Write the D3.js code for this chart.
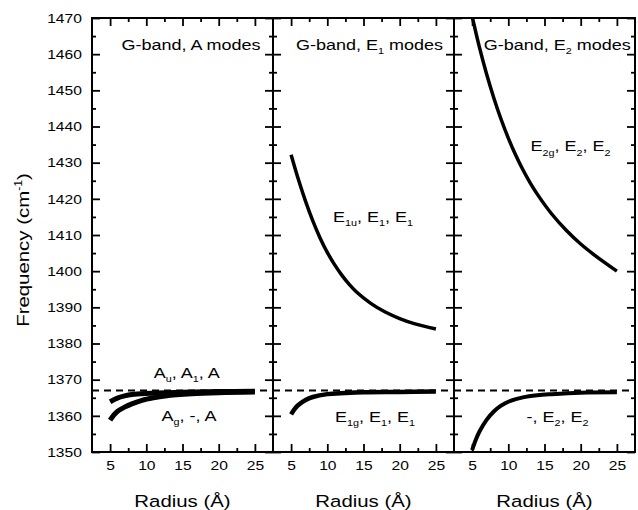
<!DOCTYPE html>
<html>
<head>
<meta charset="utf-8">
<script src="https://cdn.jsdelivr.net/npm/d3@7"></script>
<style>
	body { margin: 0; background: #fff; }
	text { font-family: "Liberation Sans", Arial, Helvetica, sans-serif; fill: #000; }
</style>
</head>
<body>
<svg id="chart" width="638" height="510"></svg>
<script>
// ticks
const radiusTicks = [5, 10, 15, 20, 25]
const radiusMinor = [7.5, 12.5, 17.5, 22.5]
const freqTicks = [1350, 1360, 1370, 1380, 1390, 1400, 1410, 1420, 1430, 1440, 1450, 1460, 1470]
const freqMinor = [1355, 1365, 1375, 1385, 1395, 1405, 1415, 1425, 1435, 1445, 1455, 1465]
const grapheneFreq = 1367

// curves: [radius, frequency]
const aUpper = [[5,1363.9],[6,1364.9],[7,1365.5],[8,1365.9],[10,1366.2],[15,1366.5],[20,1366.7],[25,1366.8]]
const aLower = [[5,1358.8],[5.5,1360.2],[6,1361.2],[7,1362.4],[8,1363.3],[9.4,1364.3],[11,1365.0],[12.6,1365.5],[16.3,1366.1],[20,1366.4],[25,1366.6]]
const e1u = [[5,1432.2],[6,1425.4],[7,1419.3],[8,1413.9],[9,1409.2],[10,1405.2],[11,1401.8],[12,1398.9],[13,1396.4],[14,1394.3],[16,1391.1],[18,1388.7],[20,1386.9],[22,1385.5],[25,1384]]
const e1g = [[5,1360.4],[5.5,1361.9],[6,1363.0],[7,1364.4],[8,1365.2],[10,1366.0],[12.5,1366.3],[15,1366.5],[20,1366.6],[25,1366.7]]
const e2g = [[5,1470.5],[6,1462],[7,1454.5],[8,1447.9],[9,1442],[10,1436.8],[11,1432.2],[12,1428.1],[13,1424.5],[14,1421.3],[16,1415.8],[18,1411.3],[20,1407.5],[22,1404.3],[25,1400]]
const e2low = [[5,1350.5],[5.5,1353.3],[6,1355.6],[7,1358.9],[8,1361.2],[9,1362.8],[10,1363.9],[12,1365.1],[14,1365.7],[16,1366.0],[20,1366.4],[25,1366.5]]

// texts (string parts, ['x','sub'] = subscript)
const titles = [
	['G-band, A modes'],
	['G-band, E', ['1','sub'], ' modes'],
	['G-band, E', ['2','sub'], ' modes']
]
const modeLabels = [
	[{at:[15.6,1370.5], parts:['A', ['u','sub'], ', A', ['1','sub'], ', A']},
	 {at:[15.9,1358.7], parts:['A', ['g','sub'], ', -, A']}],
	[{at:[16.3,1413.7], parts:['E', ['1u','sub'], ', E', ['1','sub'], ', E', ['1','sub']]},
	 {at:[16.6,1358.4], parts:['E', ['1g','sub'], ', E', ['1','sub'], ', E', ['1','sub']]}],
	[{at:[18.6,1433.2], parts:['E', ['2g','sub'], ', E', ['2','sub'], ', E', ['2','sub']]},
	 {at:[16.8,1358.4], parts:['-, E', ['2','sub'], ', E', ['2','sub']]}]
]
const panelCurves = [
	[{d:aUpper, w:5}, {d:aLower, w:5}],
	[{d:e1u, w:3.5}, {d:e1g, w:4.5}],
	[{d:e2g, w:3.5}, {d:e2low, w:4}]
]

const svg = d3.select('#chart')
const pw = 181, plotTop = 18, plotBottom = 452
const lefts = [92, 273, 454]
const y = d3.scaleLinear().domain([1350, 1470]).range([plotBottom, plotTop])

function addText(g, x, yy, parts, size, anchor, rotate) {
	const t = g.append('text')
		.attr('transform', 'translate(' + x + ',' + yy + ')' + (rotate ? ' rotate(-90)' : '') + ' scale(1.2,1)')
		.attr('text-anchor', anchor)
		.style('font-size', size + 'px')
	let shifted = 0
	parts.forEach(p => {
		const s = typeof p === 'string' ? p : p[0]
		const kind = typeof p === 'string' ? null : p[1]
		const off = kind === 'sub' ? size * 0.3 : kind === 'sup' ? -size * 0.42 : 0
		t.append('tspan')
			.attr('dy', off - shifted)
			.style('font-size', kind ? (size * 0.6) + 'px' : null)
			.text(s)
		shifted = off
	})
	return t
}

function styleAxis(sel) {
	sel.select('.domain').remove()
	sel.selectAll('line').attr('stroke-width', 1.8)
	sel.selectAll('text').style('font-size', '13px').attr('transform', 'scale(1.2,1)')
}

lefts.forEach((left, i) => {
	const x = d3.scaleLinear().domain([2.5, 27.5]).range([left, left + pw])
	const g = svg.append('g')

	g.append('clipPath').attr('id', 'clip' + i)
		.append('rect').attr('x', left).attr('y', plotTop).attr('width', pw).attr('height', plotBottom - plotTop)

	// dashed graphene line
	g.append('line')
		.attr('x1', left).attr('x2', left + pw)
		.attr('y1', y(grapheneFreq)).attr('y2', y(grapheneFreq))
		.attr('stroke', '#000').attr('stroke-width', 2).attr('stroke-dasharray', '7,5')

	const line = d3.line().x(d => x(d[0])).y(d => y(d[1])).curve(d3.curveCatmullRom)
	g.append('g').attr('clip-path', 'url(#clip' + i + ')')
		.selectAll('path')
		.data(panelCurves[i])
		.enter()
		.append('path')
		.attr('d', c => line(c.d))
		.attr('fill', 'none')
		.attr('stroke', '#000')
		.attr('stroke-width', c => c.w)

	// axes, ticks pointing inward
	g.append('g').attr('transform', 'translate(0,' + plotBottom + ')')
		.call(d3.axisBottom(x).tickValues(radiusTicks).tickSizeInner(-8).tickSizeOuter(0).tickPadding(9))
		.call(styleAxis)
	g.append('g').attr('transform', 'translate(0,' + plotBottom + ')')
		.call(d3.axisBottom(x).tickValues(radiusMinor).tickSizeInner(-4).tickSizeOuter(0).tickFormat(''))
		.call(styleAxis)
	g.append('g').attr('transform', 'translate(0,' + plotTop + ')')
		.call(d3.axisTop(x).tickValues(radiusTicks).tickSizeInner(-8).tickSizeOuter(0).tickFormat(''))
		.call(styleAxis)
	g.append('g').attr('transform', 'translate(0,' + plotTop + ')')
		.call(d3.axisTop(x).tickValues(radiusMinor).tickSizeInner(-4).tickSizeOuter(0).tickFormat(''))
		.call(styleAxis)
	g.append('g').attr('transform', 'translate(' + left + ',0)')
		.call(d3.axisLeft(y).tickValues(freqTicks).tickSizeInner(-8).tickSizeOuter(0).tickPadding(8.5)
			.tickFormat(i === 0 ? d3.format('d') : ''))
		.call(styleAxis)
	g.append('g').attr('transform', 'translate(' + left + ',0)')
		.call(d3.axisLeft(y).tickValues(freqMinor).tickSizeInner(-4).tickSizeOuter(0).tickFormat(''))
		.call(styleAxis)
	g.append('g').attr('transform', 'translate(' + (left + pw) + ',0)')
		.call(d3.axisRight(y).tickValues(freqTicks).tickSizeInner(-8).tickSizeOuter(0).tickFormat(''))
		.call(styleAxis)
	g.append('g').attr('transform', 'translate(' + (left + pw) + ',0)')
		.call(d3.axisRight(y).tickValues(freqMinor).tickSizeInner(-4).tickSizeOuter(0).tickFormat(''))
		.call(styleAxis)

	g.append('rect')
		.attr('x', left).attr('y', plotTop).attr('width', pw).attr('height', plotBottom - plotTop)
		.attr('fill', 'none').attr('stroke', '#000').attr('stroke-width', 2)

	// title and mode labels
	const titleX = [16.17, 15.83, 16.75][i]
	addText(g, x(titleX), y(1461.2), titles[i], 15, 'middle')
	modeLabels[i].forEach(l => addText(g, x(l.at[0]), y(l.at[1]), l.parts, 15, 'middle'))

	addText(g, left + pw / 2, 507, ['Radius (Å)'], 17, 'middle')
})

addText(svg, 29, 250, ['Frequency (cm', ['-1','sup'], ')'], 17, 'middle', true)
</script>
</body>
</html>
